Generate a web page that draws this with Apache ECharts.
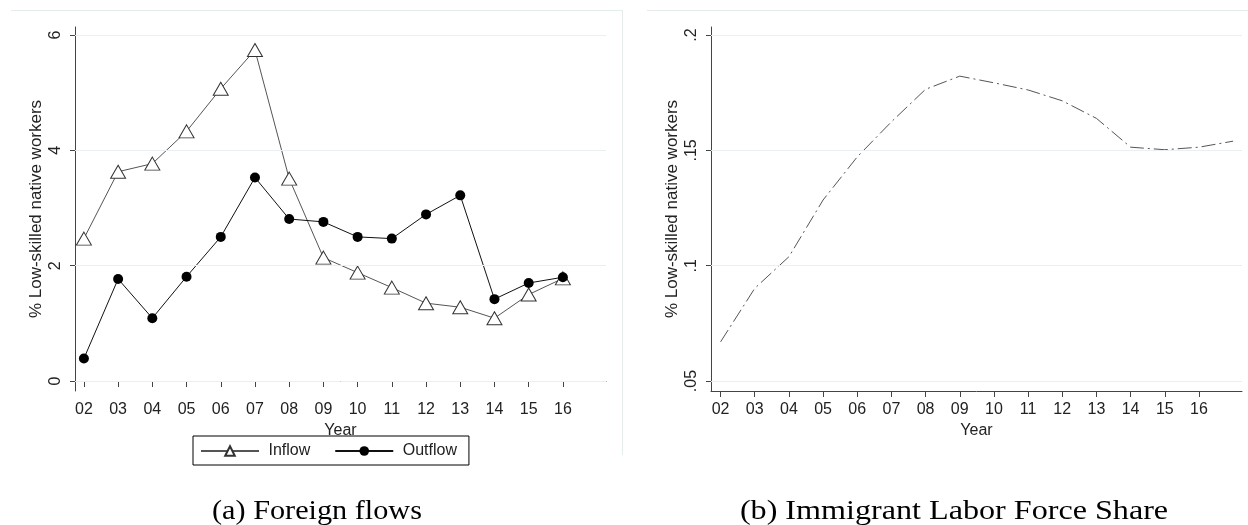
<!DOCTYPE html>
<html>
<head>
<meta charset="utf-8">
<script src="https://cdn.jsdelivr.net/npm/echarts@6/dist/echarts.min.js"></script>
<style>
html,body{margin:0;padding:0;background:#fff;}
#c{width:1248px;height:525px;}
</style>
</head>
<body>
<div id="c"></div>
<script>
// ---- data ----
const yearsA = [2, 3, 4, 5, 6, 7, 8, 9, 10, 11, 12, 13, 14, 15, 16];
const inflow = [2.47, 3.63, 3.77, 4.33, 5.07, 5.74, 3.51, 2.14, 1.88, 1.62, 1.35, 1.28, 1.09, 1.50, 1.78];
const outflow = [0.39, 1.77, 1.09, 1.81, 2.50, 3.53, 2.81, 2.76, 2.50, 2.47, 2.89, 3.22, 1.42, 1.70, 1.80];
const yearsB = [2, 3, 4, 5, 6, 7, 8, 9, 10, 11, 12, 13, 14, 15, 16, 17];
const share = [0.0670, 0.0902, 0.1039, 0.1285, 0.1472, 0.1624, 0.1765, 0.1822, 0.1793, 0.1762, 0.1715, 0.1639, 0.1514, 0.1503, 0.1514, 0.1540];
const xTicks = [2, 3, 4, 5, 6, 7, 8, 9, 10, 11, 12, 13, 14, 15, 16];
const yTicksA = [0, 2, 4, 6];
const yTicksB = [0.05, 0.1, 0.15, 0.2];
const yTitle = '% Low-skilled native workers';
const xTitle = 'Year';
const captionA = '(a) Foreign flows';
const captionB = '(b) Immigrant Labor Force Share';

const FONT = '"Liberation Sans", Arial, sans-serif';
const TXT = '#222';
const GRIDC = '#e8f0f1';
const pad2 = v => (v < 10 ? '0' : '') + Math.round(v);
const fmtB = v => String(+v.toFixed(2)).replace(/^0/, '');

function xAxisCfg(idx, min, max) {
  return {
    type: 'value', gridIndex: idx, min: min, max: max,
    axisLine: {show: true, lineStyle: {color: '#444', width: 1}},
    axisTick: {show: true, customValues: xTicks, length: 6, lineStyle: {color: '#444'}},
    axisLabel: {customValues: xTicks, formatter: pad2, fontSize: 16, color: TXT, fontFamily: FONT, margin: 11},
    splitLine: {show: false},
    name: xTitle, nameLocation: 'middle', nameGap: 26,
    nameTextStyle: {fontSize: 16, color: TXT, fontFamily: FONT}
  };
}
function yAxisCfg(idx, min, max, ticks, fmt) {
  return {
    type: 'value', gridIndex: idx, min: min, max: max,
    axisLine: {show: true, lineStyle: {color: '#444', width: 1}},
    axisTick: {show: true, customValues: ticks, length: 5, lineStyle: {color: '#444'}},
    axisLabel: {customValues: ticks, formatter: fmt, rotate: 90, fontSize: 16, color: TXT, fontFamily: FONT, margin: 11},
    splitLine: {show: false},
    name: yTitle, nameLocation: 'middle', nameRotate: 90, nameGap: 30,
    nameTextStyle: {fontSize: 17, color: TXT, fontFamily: FONT}
  };
}
function gridSeries(idx, ticks) {
  return {
    type: 'line', xAxisIndex: idx, yAxisIndex: idx, data: [], z: 0, silent: true,
    markLine: {
      silent: true, symbol: 'none', animation: false,
      label: {show: false},
      lineStyle: {color: GRIDC, type: 'solid', width: 1},
      emphasis: {disabled: true},
      data: ticks.map(v => ({yAxis: v}))
    }
  };
}

const chart = echarts.init(document.getElementById('c'), null, {renderer: 'canvas'});
chart.setOption({
  animation: false,
  backgroundColor: '#fff',
  grid: [
    {left: 75, top: 27, width: 531, height: 364},
    {left: 711, top: 27, width: 531, height: 364}
  ],
  xAxis: [xAxisCfg(0, 1.74, 17.26), xAxisCfg(1, 1.72, 17.26)],
  yAxis: [
    yAxisCfg(0, -0.173, 6.14, yTicksA, v => String(Math.round(v))),
    yAxisCfg(1, 0.0457, 0.2035, yTicksB, fmtB)
  ],
  legend: {
    data: ['Inflow', 'Outflow'],
    left: 193, top: 436,
    orient: 'horizontal',
    formatter: name => ' ' + name,
    borderColor: '#000', borderWidth: 1, borderRadius: 0,
    padding: [7, 12, 6, 7],
    itemWidth: 58, itemHeight: 12, itemGap: 24,
    textStyle: {fontSize: 16, color: TXT, fontFamily: FONT}
  },
  series: [
    gridSeries(0, yTicksA),
    gridSeries(1, yTicksB),
    {
      name: 'Inflow', type: 'line', xAxisIndex: 0, yAxisIndex: 0,
      data: yearsA.map((y, i) => [y, inflow[i]]),
      symbol: 'triangle', symbolSize: [15, 13],
      itemStyle: {color: '#fff', borderColor: '#333', borderWidth: 1},
      lineStyle: {color: '#555', width: 1},
      z: 3
    },
    {
      name: 'Outflow', type: 'line', xAxisIndex: 0, yAxisIndex: 0,
      data: yearsA.map((y, i) => [y, outflow[i]]),
      symbol: 'circle', symbolSize: 10,
      itemStyle: {color: '#000', borderColor: '#000', borderWidth: 0},
      lineStyle: {color: '#111', width: 1},
      z: 4
    },
    {
      name: 'Share', type: 'line', xAxisIndex: 1, yAxisIndex: 1,
      data: yearsB.map((y, i) => [y, share[i]]),
      symbol: 'none',
      lineStyle: {color: '#555', width: 1, type: [14, 4, 2, 4]},
      z: 3
    }
  ],
  graphic: [
    {type: 'line', shape: {x1: 11, y1: 10.5, x2: 622, y2: 10.5}, style: {stroke: '#e4ecec', lineWidth: 1}, silent: true},
    {type: 'line', shape: {x1: 622.5, y1: 10, x2: 622.5, y2: 455}, style: {stroke: '#e4ecec', lineWidth: 1}, silent: true},
    {type: 'line', shape: {x1: 647, y1: 10.5, x2: 1248, y2: 10.5}, style: {stroke: '#e4ecec', lineWidth: 1}, silent: true},
    {type: 'text', x: 317, y: 512, scaleX: 1.12, style: {text: captionA, font: '27px "Liberation Serif", serif', fill: '#000', textAlign: 'center', textVerticalAlign: 'middle'}, silent: true},
    {type: 'text', x: 954, y: 512, scaleX: 1.19, style: {text: captionB, font: '27px "Liberation Serif", serif', fill: '#000', textAlign: 'center', textVerticalAlign: 'middle'}, silent: true}
  ]
});
</script>
</body>
</html>
